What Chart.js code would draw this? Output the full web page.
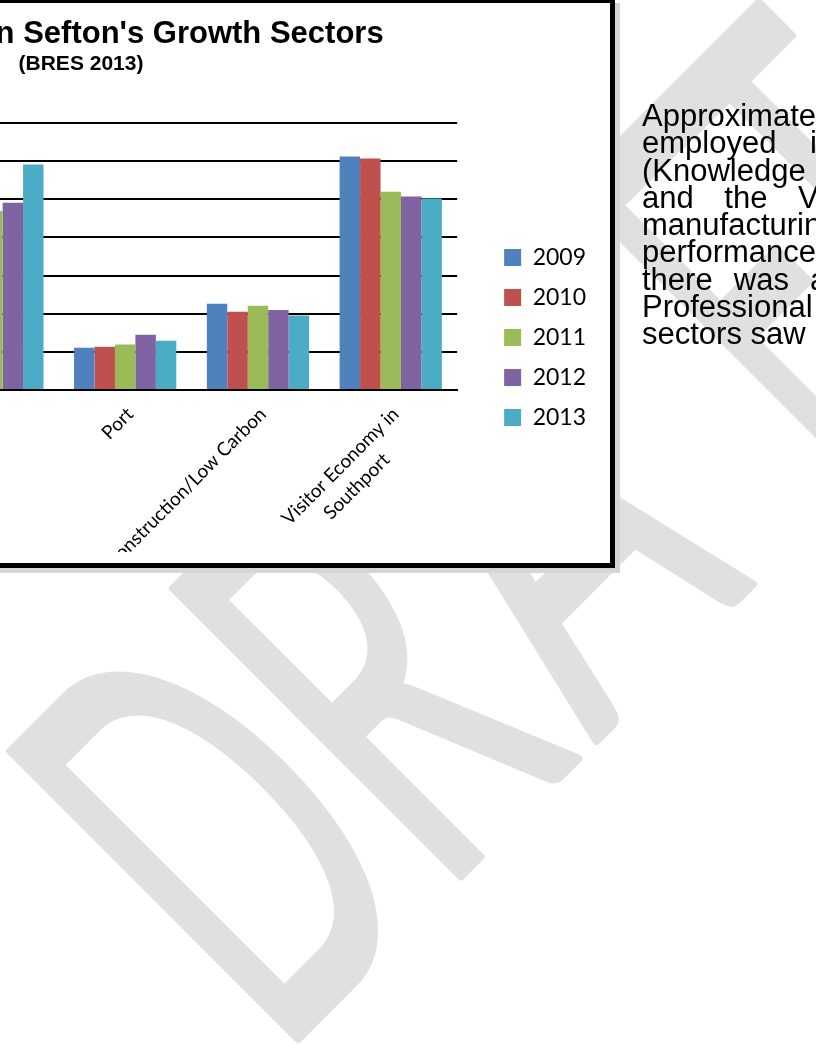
<!DOCTYPE html>
<html>
<head>
<meta charset="utf-8">
<script src="https://cdn.jsdelivr.net/npm/chart.js@4.4.1/dist/chart.umd.min.js"></script>
<style>
  html, body { margin: 0; padding: 0; width: 816px; height: 1044px; overflow: hidden; background: #fff; }
  #wm { position: absolute; left: 0; top: 0; z-index: 0; }
  #notes { position: absolute; left: 642px; top: 0; z-index: 1; font-family: "Liberation Sans", Arial, sans-serif; font-size: 31px; color: #000; }
  #notes div { position: absolute; left: 0; white-space: nowrap; line-height: 27.25px; }
  #frame { position: absolute; left: -700px; top: -2px; width: 1305px; height: 560px; border: 5px solid #000;
           background: #fff; box-shadow: 5px 5px 0 #d6d6d6; z-index: 2; }
  .ttl { position: absolute; text-align: center; font-family: "Liberation Sans", Arial, sans-serif; font-weight: bold; color: #000; white-space: nowrap; }
  #t1 { left: 383px; top: 12.5px; width: 800px; font-size: 31px; line-height: 34px; }
  #t2 { left: 576px; top: 48px; width: 400px; font-size: 21px; line-height: 24px; }
  #chartWrap { position: absolute; left: 615px; top: 97px; width: 690px; height: 452px; }
</style>
</head>
<body>
<canvas id="wm" width="816" height="1044"></canvas>

<div id="notes">
  <div style="top:102px">Approximately</div>
  <div style="top:129.25px; word-spacing:25px">employed in</div>
  <div style="top:156.5px">(Knowledge</div>
  <div style="top:183.75px; word-spacing:22px">and the Visitor</div>
  <div style="top:211px">manufacturing</div>
  <div style="top:238.25px">performance</div>
  <div style="top:265.5px; word-spacing:12.5px">there was a</div>
  <div style="top:292.75px">Professional</div>
  <div style="top:320px">sectors saw</div>
</div>

<div id="frame">
  <div class="ttl" id="t1">Employment in Sefton's Growth Sectors</div>
  <div class="ttl" id="t2">(BRES 2013)</div>
  <div id="chartWrap"><canvas id="chart" width="690" height="452"></canvas></div>
</div>

<script>
// Sectors and yearly employment (BRES)
const categories = ['Knowledge Economy', 'Port', 'Construction/Low Carbon', ['Visitor Economy in', 'Southport        ']];
const years = ['2009', '2010', '2011', '2012', '2013'];
const jobs2009 = [4850, 1110, 2260, 6120];
const jobs2010 = [4750, 1135, 2050, 6070];
const jobs2011 = [4690, 1190, 2210, 5200];
const jobs2012 = [4910, 1450, 2100, 5070];
const jobs2013 = [5910, 1290, 1950, 5020];
const yMax = 7000;
const yStep = 1000;
const colours = ['#4F81BD', '#C0504D', '#9BBB59', '#8064A2', '#4BACC6'];

// DRAFT watermark: letters laid along a 45-degree baseline
const wmLetters = ['D', 'R', 'A', 'F', 'T'];
const wmStart = [0, 230, 425, 795, 905];
const wmEnd = [192, 405, 655, 922, 1067];
const wmCap = 408;
const wmOrigin = [294, 1043];

(function drawWatermark() {
  const ctx = document.getElementById('wm').getContext('2d');
  const k = Math.SQRT1_2;
  ctx.font = '560px Lato';
  ctx.fillStyle = '#e0e0e0';
  ctx.strokeStyle = '#e0e0e0';
  ctx.lineJoin = 'round';
  ctx.lineWidth = 8;
  wmLetters.forEach((ch, i) => {
    ctx.setTransform(1, 0, 0, 1, 0, 0);
    const m = ctx.measureText(ch);
    const inkL = -m.actualBoundingBoxLeft;
    const inkR = m.actualBoundingBoxRight;
    const sx = (wmEnd[i] - wmStart[i]) / (inkR - inkL);
    const sy = wmCap / m.actualBoundingBoxAscent;
    const ox = wmOrigin[0] + wmStart[i] * k;
    const oy = wmOrigin[1] - wmStart[i] * k;
    ctx.setTransform(sx * k, -sx * k, sy * k, sy * k, ox - inkL * sx * k, oy + inkL * sx * k);
    ctx.fillText(ch, 0, 0);
    ctx.strokeText(ch, 0, 0);
  });
  ctx.setTransform(1, 0, 0, 1, 0, 0);
})();

const series = [jobs2009, jobs2010, jobs2011, jobs2012, jobs2013];
const labelFont = { family: 'Lato, "Liberation Sans", sans-serif', size: 19, lineHeight: 1.35 };

new Chart(document.getElementById('chart'), {
  type: 'bar',
  data: {
    labels: categories,
    datasets: years.map((y, i) => ({
      label: y,
      data: series[i],
      backgroundColor: colours[i],
      borderWidth: 0,
      barPercentage: 1,
      categoryPercentage: 0.77,
      yAxisID: 'y'
    }))
  },
  options: {
    responsive: false,
    animation: false,
    events: [],
    layout: { padding: { top: 23, right: 14, bottom: 0, left: 0 } },
    plugins: {
      title: { display: false },
      tooltip: { enabled: false },
      legend: {
        position: 'right',
        align: 'center',
        labels: {
          boxWidth: 17, boxHeight: 17, padding: 17, color: '#000',
          font: { family: 'Lato, "Liberation Sans", sans-serif', size: 23 }
        }
      }
    },
    scales: {
      x: {
        grid: { display: false },
        border: { display: true, color: '#000', width: 2 },
        ticks: { color: '#000', font: labelFont, minRotation: 45, maxRotation: 45, autoSkip: false, padding: 4, labelOffset: 5 },
        afterFit: s => { s.height = 162; s.paddingLeft = 0; s.paddingRight = 0; }
      },
      y: {
        min: 0, max: yMax,
        grid: { color: '#000', lineWidth: 2, drawTicks: false },
        border: { display: false },
        ticks: { stepSize: yStep, display: false },
        afterFit: s => { s.width = 6; }
      },
      gap: {
        position: 'right', display: true,
        grid: { display: false }, border: { display: false },
        ticks: { display: false },
        afterFit: s => { s.width = 30; }
      }
    }
  }
});
</script>
</body>
</html>
